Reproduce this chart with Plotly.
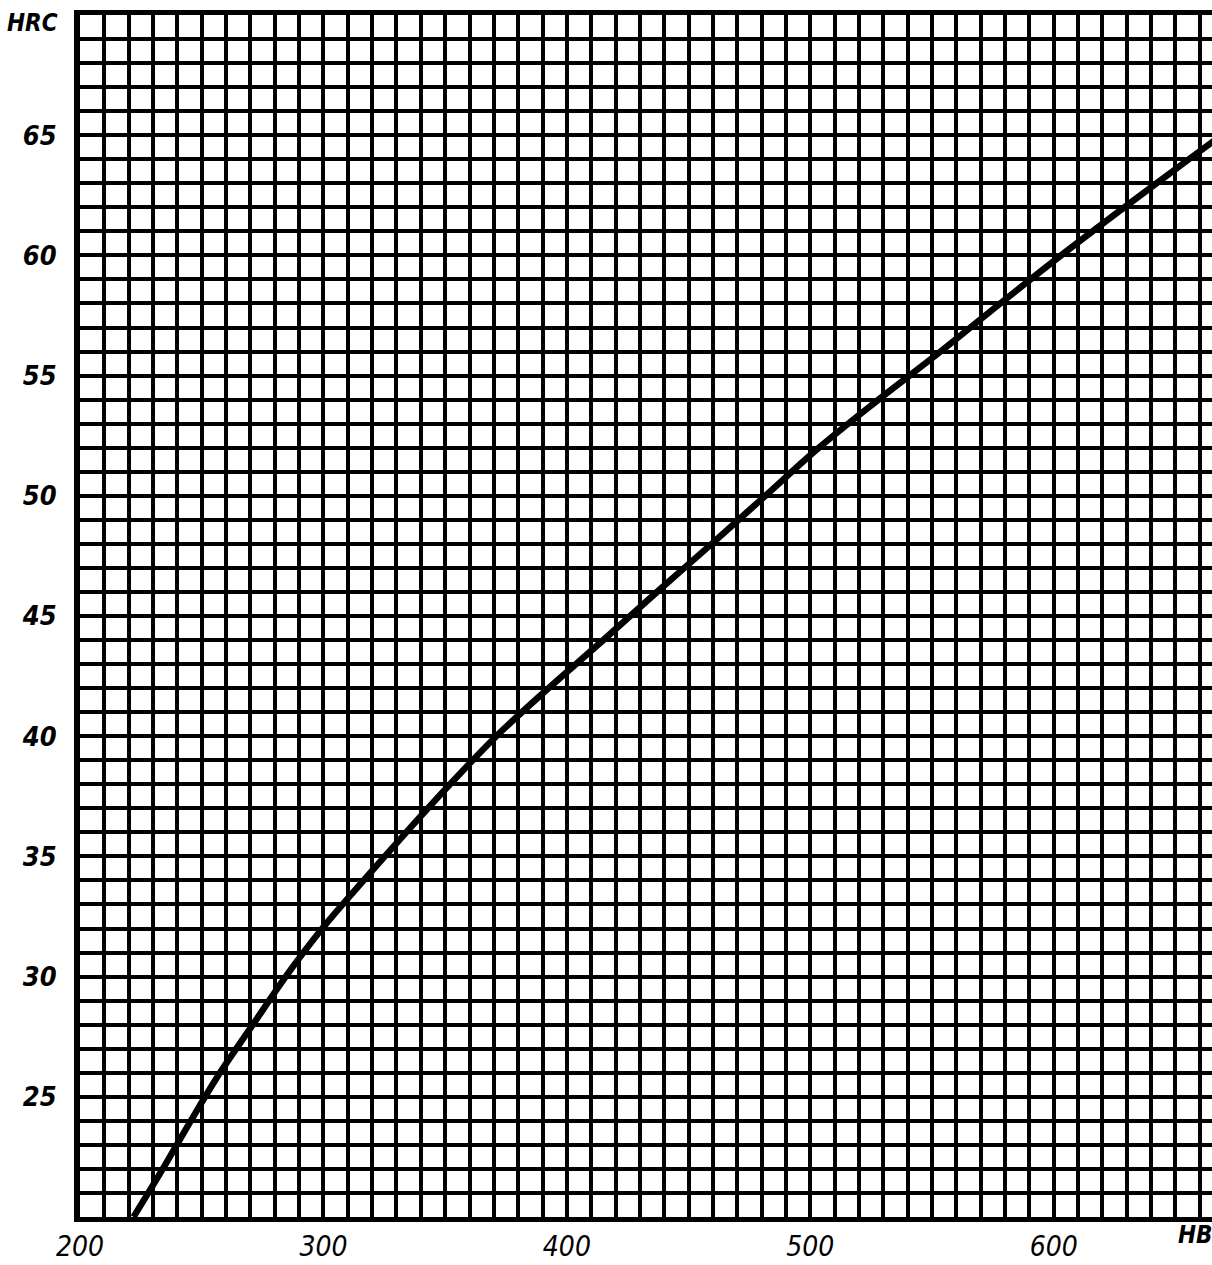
import plotly.graph_objects as go

# Curve: Brinell hardness (HB) vs Rockwell C (HRC)
hrc_values = [20, 22, 24, 26, 28, 30, 32, 34, 36, 38, 40, 42, 44, 46, 48,
              50, 52, 54, 56, 58, 60, 62, 64, 65]
hb_values = [222, 234, 245.5, 257.5, 271, 284.5, 299.5, 316.5, 334, 352, 371,
             392.5, 415, 437, 459.5, 481.5, 503.5, 528, 553.5, 578, 603, 629,
             655.5, 669]

x_tick_vals = [200, 300, 400, 500, 600]
x_tick_text = ["200", "300", "400", "500", "600"]
y_tick_vals = [25, 30, 35, 40, 45, 50, 55, 60, 65]
y_tick_text = ["25", "30", "35", "40", "45", "50", "55", "60", "65"]

x_title = "HB"
y_title = "HRC"

FONT = "DejaVu Sans Condensed, Liberation Sans Narrow, DejaVu Sans, sans-serif"

fig = go.Figure()
fig.add_trace(go.Scatter(
    x=hb_values, y=hrc_values, mode="lines",
    line=dict(color="black", width=6.5, shape="spline", smoothing=1.0),
    hoverinfo="skip", showlegend=False,
))

grid = dict(showgrid=True, gridcolor="black", gridwidth=3.5)

fig.update_xaxes(
    range=[200, 665], tickvals=x_tick_vals, ticktext=x_tick_text,
    ticks="", ticklabelstandoff=0, showline=True, linecolor="black",
    linewidth=5, mirror=True, zeroline=False, automargin=False,
    tickfont=dict(family=FONT, size=28, color="black", style="italic"),
    minor=dict(dtick=10, tick0=200, showgrid=True, gridcolor="black",
               gridwidth=3.5, ticks=""),
    **grid,
)
fig.update_yaxes(
    range=[20, 70], tickvals=y_tick_vals, ticktext=y_tick_text,
    ticks="", ticklabelstandoff=12, showline=True, linecolor="black",
    linewidth=6, zeroline=False, automargin=False,
    tickfont=dict(family=FONT, size=27, color="black", style="italic",
                  weight="bold"),
    minor=dict(dtick=1, tick0=20, showgrid=True, gridcolor="black",
               gridwidth=3.5, ticks=""),
    **grid,
)

fig.add_annotation(text=y_title, xref="paper", yref="paper", x=-0.066, y=0.993,
                   xanchor="left", yanchor="middle", showarrow=False,
                   font=dict(family=FONT, size=24, color="black",
                             style="italic", weight="bold"))
fig.add_annotation(text=x_title, xref="paper", yref="paper", x=0.985, y=-0.002,
                   xanchor="center", yanchor="top", showarrow=False,
                   font=dict(family=FONT, size=24, color="black",
                             style="italic", weight="bold"))

fig.update_layout(
    width=1212, height=1265,
    margin=dict(l=80, r=0, t=15, b=48, autoexpand=False),
    paper_bgcolor="white", plot_bgcolor="white",
)

fig.write_html("out.html", config={"displayModeBar": False},
               post_script="document.body.style.margin='0';")
